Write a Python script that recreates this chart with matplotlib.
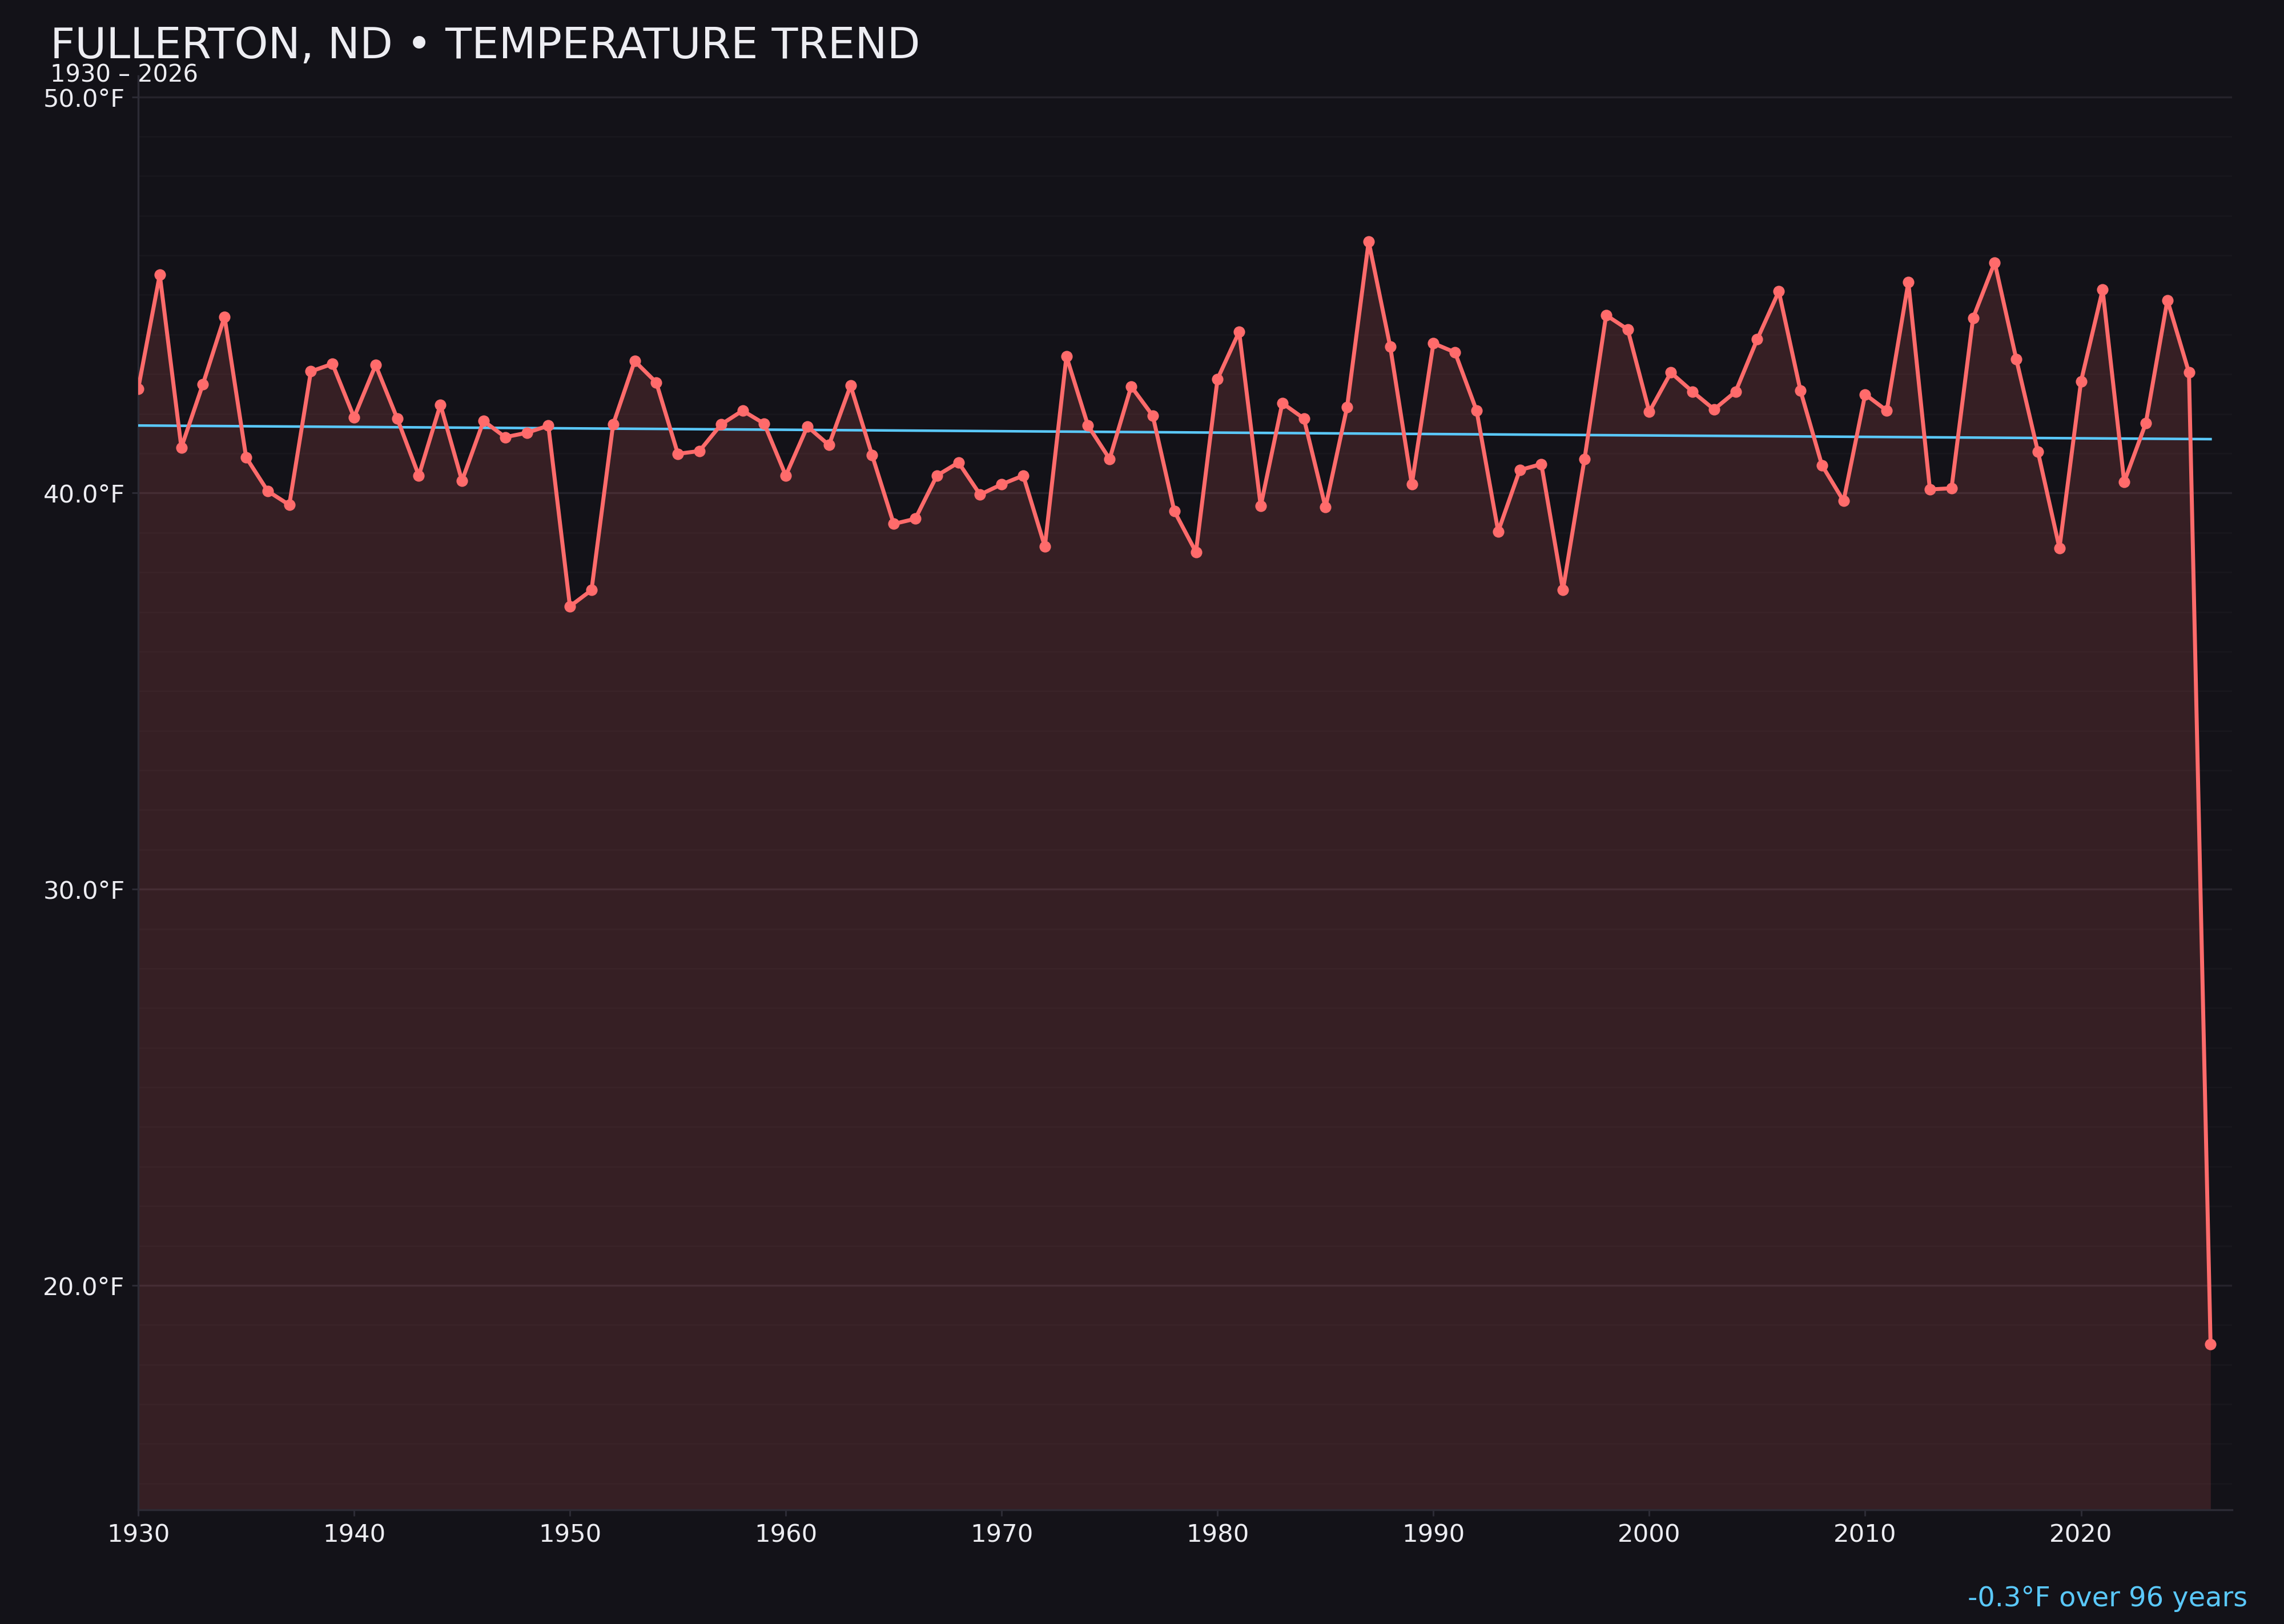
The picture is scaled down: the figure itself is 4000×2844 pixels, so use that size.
import numpy as np
import matplotlib
matplotlib.use("Agg")
import matplotlib.pyplot as plt
from matplotlib.ticker import MultipleLocator, FuncFormatter

# ---- data ----
years = list(range(1930, 2027))
temps = [
    42.63, 45.51, 41.15, 42.75, 44.45, 40.90, 40.05, 39.70, 43.07, 43.26,  # 1930-1939
    41.91, 43.23, 41.88, 40.44, 42.23, 40.31, 41.82, 41.41, 41.52, 41.70,  # 1940-1949
    37.14, 37.55, 41.73, 43.33, 42.79, 40.99, 41.06, 41.73, 42.08, 41.75,  # 1950-1959
    40.44, 41.68, 41.21, 42.71, 40.95, 39.22, 39.35, 40.44, 40.77, 39.96,  # 1960-1969
    40.22, 40.44, 38.65, 43.45, 41.70, 40.86, 42.69, 41.95, 39.54, 38.51,  # 1970-1979
    42.88, 44.07, 39.67, 42.27, 41.88, 39.64, 42.17, 46.35, 43.69, 40.22,  # 1980-1989
    43.78, 43.55, 42.08, 39.03, 40.58, 40.73, 37.55, 40.86, 44.49, 44.13,  # 1990-1999
    42.05, 43.04, 42.56, 42.11, 42.56, 43.88, 45.09, 42.59, 40.70, 39.80,  # 2000-2009
    42.49, 42.08, 45.32, 40.09, 40.12, 44.42, 45.82, 43.38, 41.05, 38.61,  # 2010-2019
    42.82, 45.13, 40.28, 41.76, 44.87, 43.04, 18.51,                       # 2020-2026
]
x_ticks = [1930, 1940, 1950, 1960, 1970, 1980, 1990, 2000, 2010, 2020]
title_text = "FULLERTON, ND • TEMPERATURE TREND"
subtitle_text = "1930 – 2026"
trend_text = "-0.3°F over 96 years"

# ---- style ----
BG = "#131218"
LINE = "#FF6B6B"
TREND = "#5AC8FA"
TEXT = "#EDEDF2"
SPINE = "#2C2B35"

plt.rcParams['font.family'] = ['DejaVu Sans']

fig = plt.figure(figsize=(16, 11.376), dpi=250, facecolor=BG)
ax = fig.add_axes([0.0605, 0.0703, 0.9773 - 0.0605, 0.9532 - 0.0703])
ax.set_facecolor(BG)

yrs = np.array(years, dtype=float)
t = np.array(temps, dtype=float)

rng = t.max() - t.min()
ymin = t.min() - 0.15 * rng
ymax = t.max() + 0.15 * rng

ax.fill_between(yrs, t, ymin, color=LINE, alpha=0.15, linewidth=0, zorder=2)
ax.plot(yrs, t, color=LINE, lw=2.0, marker='o', markersize=4.8, zorder=4)

# linear trend over all years
coef = np.polyfit(yrs, t, 1)
ax.plot([yrs[0], yrs[-1]], np.polyval(coef, [yrs[0], yrs[-1]]), color=TREND,
        lw=1.3, zorder=3)

ax.set_xlim(1930, 2027)
ax.set_ylim(ymin, ymax)
ax.set_xticks(x_ticks)
ax.yaxis.set_major_locator(MultipleLocator(10))
ax.yaxis.set_minor_locator(MultipleLocator(1))
ax.yaxis.set_major_formatter(FuncFormatter(lambda v, p: f"{v:.1f}°F"))

ax.grid(axis='y', which='major', color='#25232B', lw=1.0, zorder=1)
ax.grid(axis='y', which='minor', color='#18171D', lw=0.8, zorder=1)
ax.grid(axis='x', visible=False)

for s in ['top', 'right']:
    ax.spines[s].set_visible(False)
for s in ['left', 'bottom']:
    ax.spines[s].set_color(SPINE)
    ax.spines[s].set_linewidth(1.0)

ax.tick_params(axis='both', which='major', colors=SPINE, labelcolor=TEXT,
               labelsize=12.5, length=3.2, width=0.9, pad=3.5)
ax.tick_params(axis='y', which='minor', length=0)

fig.text(0.022, 0.9642, title_text, color=TEXT, fontsize=21.7, ha='left', va='baseline')
fig.text(0.022, 0.9494, subtitle_text, color=TEXT, fontsize=12, ha='left', va='baseline')
fig.text(0.984, 0.011, trend_text, color=TREND, fontsize=13.8, ha='right', va='baseline')

fig.savefig("out.png", dpi=250, facecolor=BG)
